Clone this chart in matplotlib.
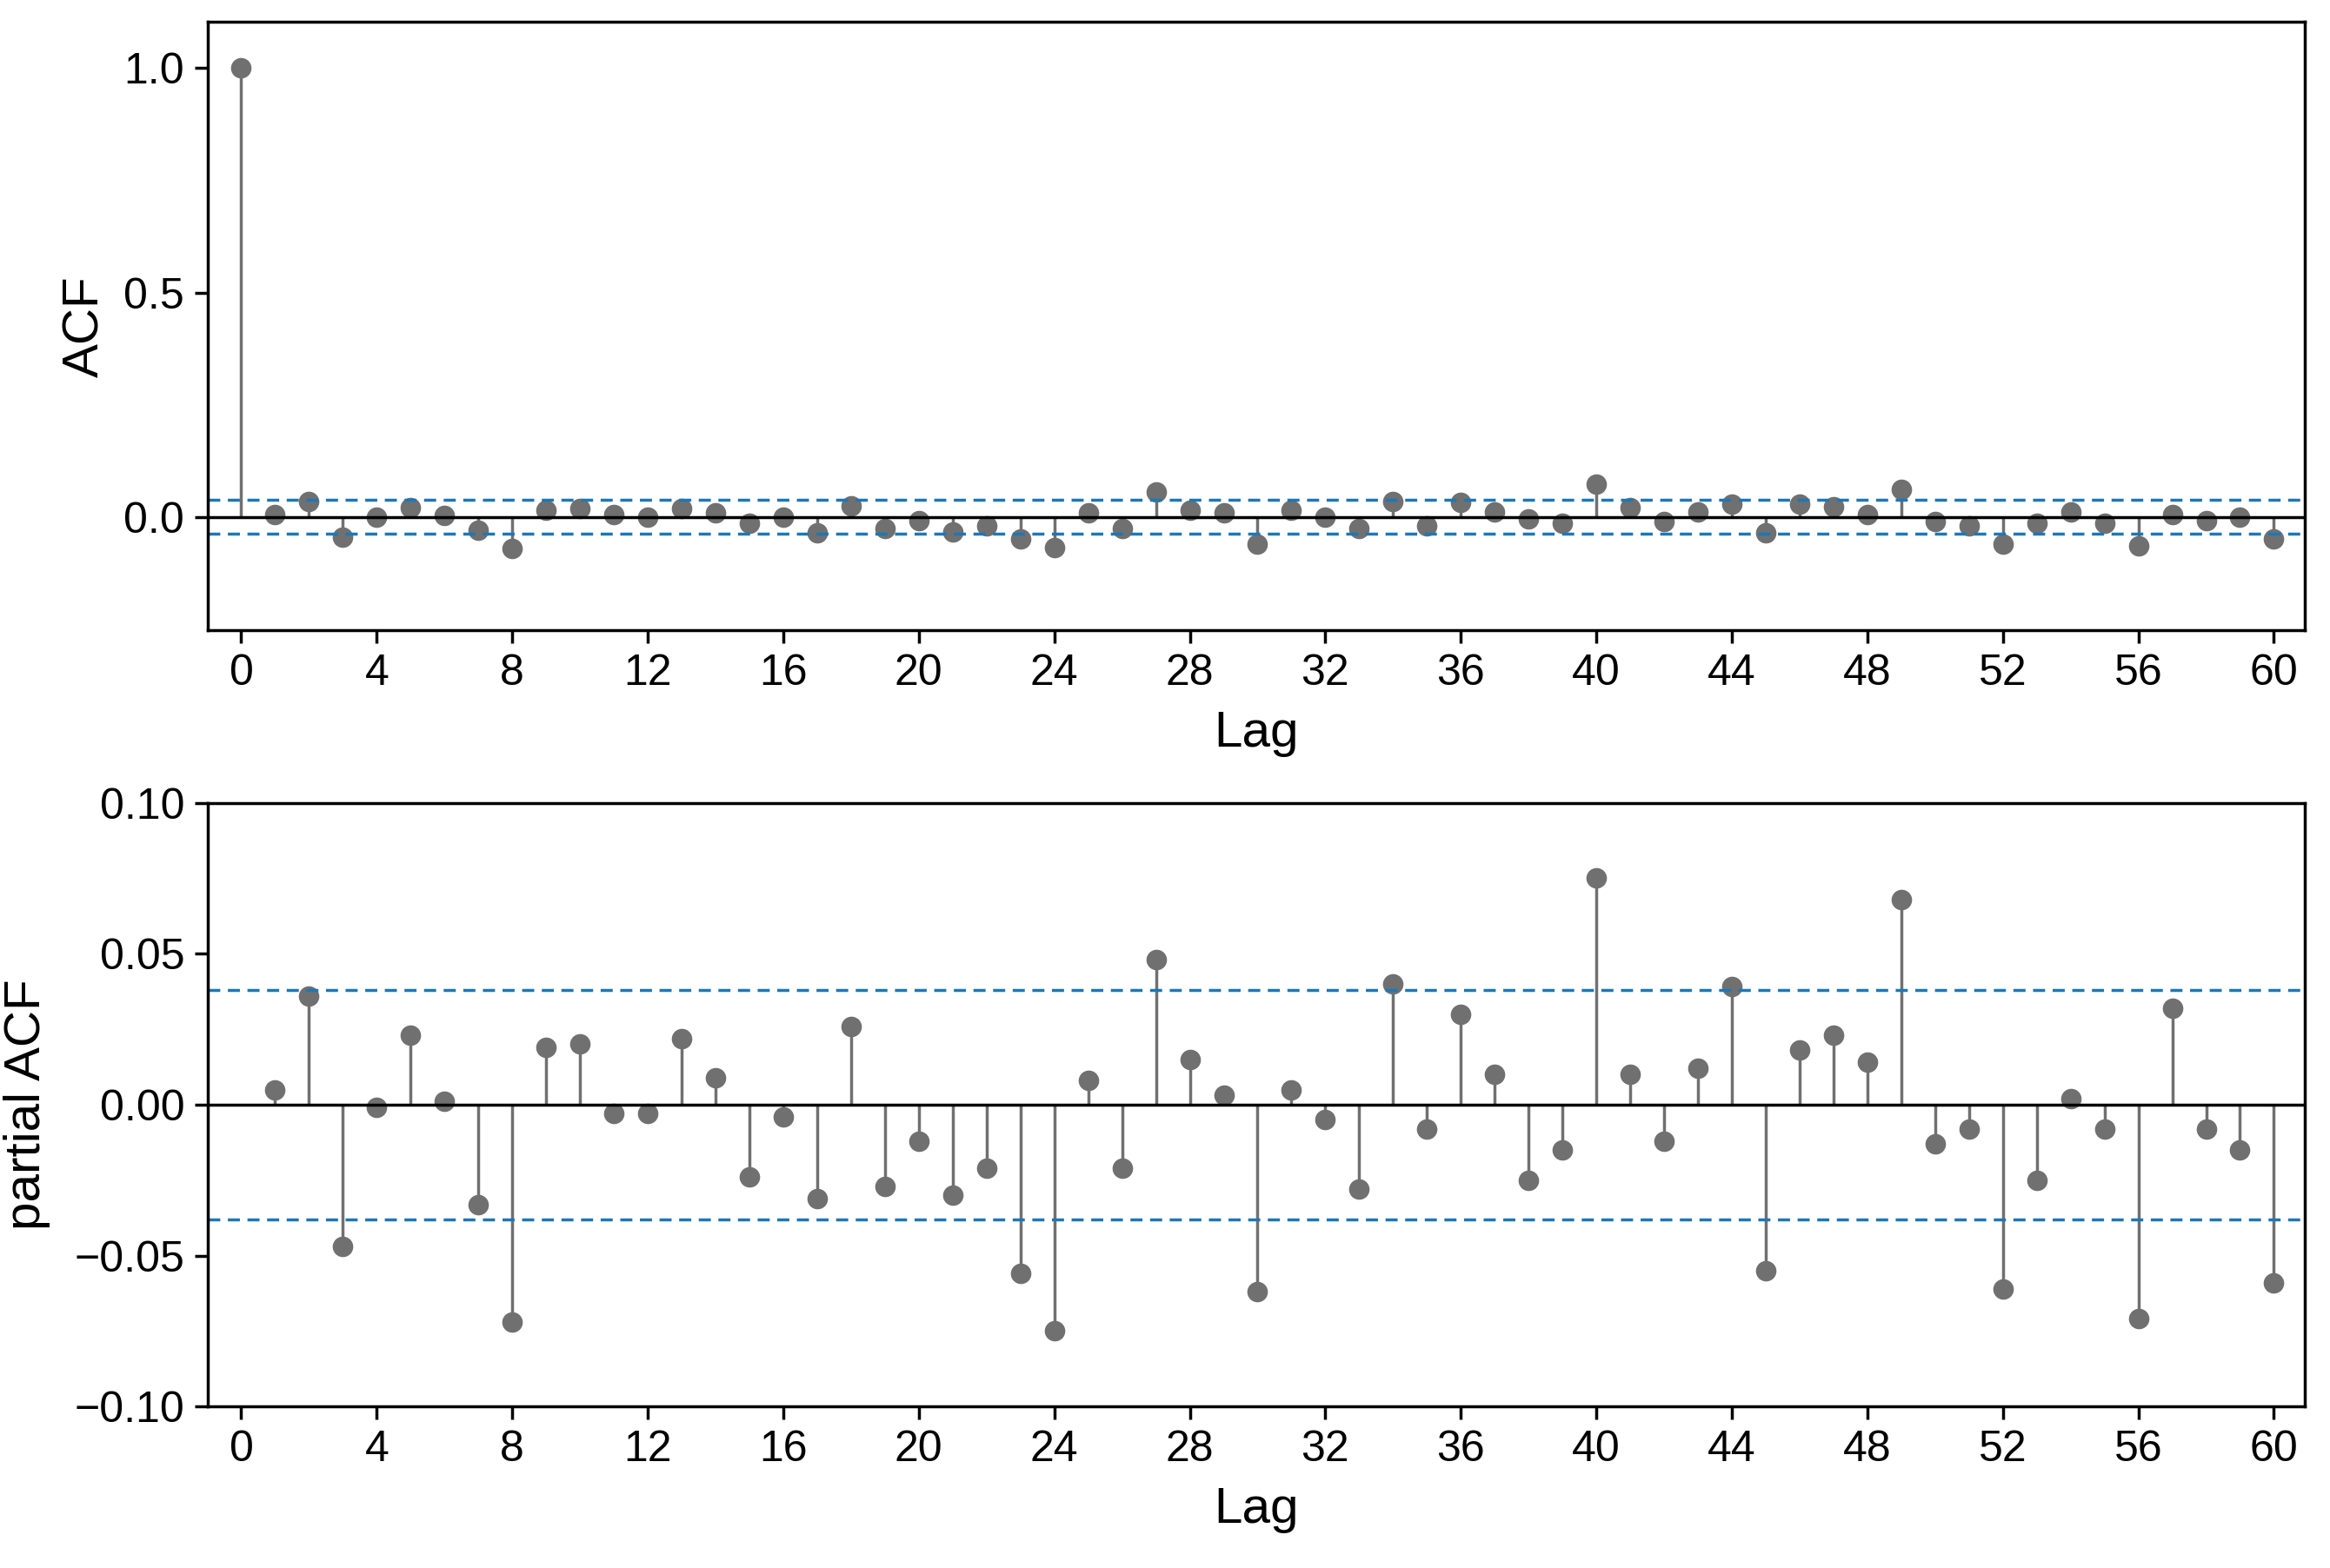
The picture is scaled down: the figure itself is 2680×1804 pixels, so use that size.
import matplotlib
matplotlib.use("Agg")
import matplotlib.pyplot as plt
import numpy as np

lags = list(range(0, 61))
acf = [1.0, 0.005, 0.035, -0.045, 0.0, 0.02, 0.003, -0.03, -0.07, 0.015, 0.018, 0.005, 0.0, 0.018, 0.008,
       -0.015, 0.0, -0.035, 0.025, -0.025, -0.008, -0.033, -0.02, -0.05, -0.068, 0.008, -0.025, 0.055, 0.015,
       0.008, -0.06, 0.015, 0.0, -0.025, 0.035, -0.02, 0.032, 0.01, -0.005, -0.015, 0.072, 0.02, -0.01, 0.01,
       0.028, -0.035, 0.028, 0.022, 0.005, 0.062, -0.01, -0.02, -0.06, -0.015, 0.01, -0.015, -0.065, 0.005,
       -0.008, 0.0, -0.05]
pacf_lags = list(range(1, 61))
pacf = [0.005, 0.036, -0.047, -0.001, 0.023, 0.001, -0.033, -0.072, 0.019, 0.020, -0.003, -0.003, 0.022, 0.009,
        -0.024, -0.004, -0.031, 0.026, -0.027, -0.012, -0.030, -0.021, -0.056, -0.075, 0.008, -0.021, 0.048,
        0.015, 0.003, -0.062, 0.005, -0.005, -0.028, 0.040, -0.008, 0.030, 0.010, -0.025, -0.015, 0.075, 0.010,
        -0.012, 0.012, 0.039, -0.055, 0.018, 0.023, 0.014, 0.068, -0.013, -0.008, -0.061, -0.025, 0.002, -0.008,
        -0.071, 0.032, -0.008, -0.015, -0.059]
conf = 0.038
xticks = list(range(0, 61, 4))

plt.rcParams['font.family'] = ['Liberation Sans', 'DejaVu Sans']
fig = plt.figure(figsize=(26.8, 18.04), dpi=100)
ax1 = fig.add_axes([0.089, 0.598, 0.900, 0.388])
ax2 = fig.add_axes([0.089, 0.103, 0.900, 0.385])
grey = '#707070'
blue = '#1f77b4'

def draw(ax, x, y, ylim, yticks, ylabel, fmt):
    ax.vlines(x, 0, y, color=grey, lw=2.5)
    ax.plot(x, y, 'o', color=grey, ms=16)
    ax.axhline(0, color='black', lw=2.5)
    ax.axhline(conf, color=blue, ls='--', lw=2.5, dashes=(4, 2.5))
    ax.axhline(-conf, color=blue, ls='--', lw=2.5, dashes=(4, 2.5))
    ax.set_xlim(-1, 60.9)
    ax.set_ylim(*ylim)
    ax.set_xticks(xticks)
    ax.set_yticks(yticks)
    ax.set_yticklabels([fmt.format(t).replace('-', '\u2212') for t in yticks])
    ax.set_xlabel('Lag', fontsize=42, labelpad=14)
    ax.set_ylabel(ylabel, fontsize=42, labelpad=12)
    ax.tick_params(labelsize=36, width=2.5, length=11, direction='out', pad=8)
    for s in ax.spines.values():
        s.set_linewidth(2.5)

draw(ax1, lags, acf, (-0.253, 1.103), [0.0, 0.5, 1.0], 'ACF', '{:.1f}')
draw(ax2, pacf_lags, pacf, (-0.1, 0.1), [-0.10, -0.05, 0.0, 0.05, 0.10], 'partial ACF', '{:.2f}')
ax2.yaxis.set_label_coords(-0.075, 0.5)
fig.savefig('out.png', dpi=100)
